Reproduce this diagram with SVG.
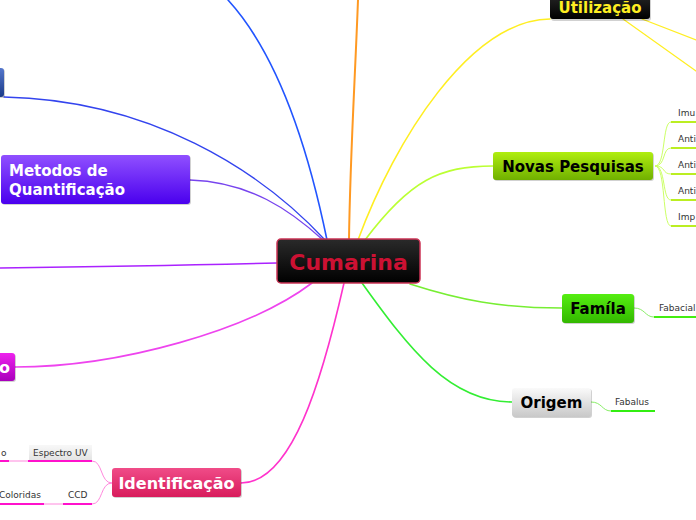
<svg xmlns="http://www.w3.org/2000/svg" width="696" height="520" viewBox="0 0 696 520">
<defs>
<linearGradient id="gBlack" x1="0" y1="0" x2="0" y2="1"><stop offset="0" stop-color="#2a2a2a"/><stop offset="1" stop-color="#000"/></linearGradient>
<linearGradient id="gGreenY" x1="0" y1="0" x2="0" y2="1"><stop offset="0" stop-color="#b0ee10"/><stop offset="1" stop-color="#70b000"/></linearGradient>
<linearGradient id="gGreen" x1="0" y1="0" x2="0" y2="1"><stop offset="0" stop-color="#55ee11"/><stop offset="1" stop-color="#33b800"/></linearGradient>
<linearGradient id="gGray" x1="0" y1="0" x2="0" y2="1"><stop offset="0" stop-color="#fafafa"/><stop offset="1" stop-color="#c8c8c8"/></linearGradient>
<linearGradient id="gPink" x1="0" y1="0" x2="0" y2="1"><stop offset="0" stop-color="#f04c88"/><stop offset="1" stop-color="#d81c5c"/></linearGradient>
<linearGradient id="gPurple" x1="0" y1="0" x2="0" y2="1"><stop offset="0" stop-color="#9050ff"/><stop offset="1" stop-color="#4a00ee"/></linearGradient>
<linearGradient id="gBlue" x1="0" y1="0" x2="0" y2="1"><stop offset="0" stop-color="#5577cc"/><stop offset="1" stop-color="#1a3a88"/></linearGradient>
<linearGradient id="gMag" x1="0" y1="0" x2="0" y2="1"><stop offset="0" stop-color="#ee22ee"/><stop offset="1" stop-color="#a800bb"/></linearGradient>
<linearGradient id="gLab" x1="0" y1="0" x2="0" y2="1"><stop offset="0" stop-color="#f8f8f8"/><stop offset="1" stop-color="#e4e4e4"/></linearGradient>
</defs>
<style>
.t{font-family:"DejaVu Sans",Verdana,sans-serif;font-weight:bold}
.s{font-family:"DejaVu Sans",Verdana,sans-serif;font-size:9px;fill:#333}
.c{fill:none;stroke-linecap:round}
.sh{fill:#000;opacity:0.18}
</style>
<g id="connectors">
<path class="c" d="M228 0 Q292 70 327 240" stroke="#2255ff" stroke-width="1.6"/>
<path class="c" d="M358 0 C355 80 350 160 349 240" stroke="#ff9922" stroke-width="2"/>
<path class="c" d="M358 240 C395 140 470 20 550 19" stroke="#ffee22" stroke-width="1.6"/>
<path class="c" d="M623 19 L696 71" stroke="#ffee22" stroke-width="1.2"/>
<path class="c" d="M642 19 L696 40" stroke="#ffee22" stroke-width="1.2"/>
<path class="c" d="M365 240 C410 180 440 166 493 166" stroke="#bbff33" stroke-width="1.6"/>
<path class="c" d="M410 284 C460 300 500 308 562 308" stroke="#77ee33" stroke-width="1.6"/>
<path class="c" d="M362 283 C410 350 450 402 512 402" stroke="#33ee33" stroke-width="1.6"/>
<path class="c" d="M344 283 C322 380 292 483 241 483" stroke="#ff33cc" stroke-width="1.6"/>
<path class="c" d="M312 283 C250 330 120 367 15 367" stroke="#ee44ee" stroke-width="1.6"/>
<path class="c" d="M277 263 Q150 266 0 268" stroke="#aa22ff" stroke-width="1.6"/>
<path class="c" d="M190 180 C250 182 290 210 323 240" stroke="#7744ee" stroke-width="1.4"/>
<path class="c" d="M4 97 C150 100 260 170 325 240" stroke="#3344ee" stroke-width="1.4"/>
<g stroke="#ccff66" stroke-width="1" fill="none">
<path d="M655 166 C666 166 662 122 671 122"/>
<path d="M655 166 C666 166 662 148 671 148"/>
<path d="M655 166 C666 166 662 174 671 174"/>
<path d="M655 166 C666 166 662 200 671 200"/>
<path d="M655 166 C666 166 662 226 671 226"/>
</g>
<path d="M634 308 C645 308 645 317 654 317" stroke="#88ee66" stroke-width="1" fill="none"/>
<path d="M591 402 C602 402 602 411 611 411" stroke="#88ee66" stroke-width="1" fill="none"/>
<g stroke="#ff88dd" stroke-width="1" fill="none">
<path d="M112 483 C100 483 103 461 92 461"/>
<path d="M112 483 C100 483 103 504 92 504"/>
<path d="M9 461 L28 461"/>
<path d="M44 504 L63 504"/>
</g>
</g>
<g id="cumarina">
<rect x="277" y="239" width="143" height="44" rx="4" fill="url(#gBlack)" stroke="#cc3355" stroke-width="1.5"/>
<text class="t" x="348.5" y="270" font-size="22" fill="#cc1133" text-anchor="middle">Cumarina</text>
</g>
<g id="utilizacao">
<rect class="sh" x="551" y="-6" width="100" height="27" rx="3"/>
<rect x="550" y="-8" width="100" height="27" rx="3" fill="url(#gBlack)"/>
<text class="t" x="600" y="13" font-size="15" fill="#ffee22" text-anchor="middle">Utilização</text>
</g>
<g id="novas">
<rect class="sh" x="494" y="153" width="160" height="28" rx="3"/>
<rect x="493" y="152" width="160" height="28" rx="3" fill="url(#gGreenY)"/>
<text class="t" x="573" y="171.5" font-size="15" fill="#000" text-anchor="middle">Novas Pesquisas</text>
</g>
<g id="novas-children">
<text class="s" x="678" y="116">Imu</text>
<text class="s" x="678" y="142">Anti</text>
<text class="s" x="678" y="168">Anti</text>
<text class="s" x="678" y="194">Anti</text>
<text class="s" x="678" y="220">Imp</text>
<g fill="#bbee22">
<rect x="671" y="121" width="25" height="2"/>
<rect x="671" y="147" width="25" height="2"/>
<rect x="671" y="173" width="25" height="2"/>
<rect x="671" y="199" width="25" height="2"/>
<rect x="671" y="225" width="25" height="2"/>
</g>
</g>
<g id="familia">
<rect class="sh" x="563" y="295" width="72" height="29" rx="3"/>
<rect x="562" y="294" width="72" height="29" rx="3" fill="url(#gGreen)"/>
<text class="t" x="598" y="314" font-size="15" fill="#000" text-anchor="middle">Famíla</text>
<text class="s" x="659" y="311">Fabacial</text>
<rect x="654" y="316" width="42" height="2" fill="#44ee11"/>
</g>
<g id="origem">
<rect class="sh" x="513" y="389" width="79" height="29" rx="3"/>
<rect x="512" y="388" width="79" height="29" rx="3" fill="url(#gGray)"/>
<text class="t" x="551.5" y="408" font-size="15" fill="#000" text-anchor="middle">Origem</text>
<text class="s" x="615" y="405">Fabalus</text>
<rect x="611" y="410" width="44" height="2" fill="#33ee11"/>
</g>
<g id="identificacao">
<rect class="sh" x="113" y="469" width="129" height="29" rx="3"/>
<rect x="112" y="468" width="129" height="29" rx="3" fill="url(#gPink)"/>
<text class="t" x="176.5" y="489" font-size="16" fill="#fff" text-anchor="middle">Identificação</text>
</g>
<g id="espectro">
<rect x="29" y="445" width="63" height="15" fill="url(#gLab)"/>
<text class="s" x="33" y="456">Espectro UV</text>
<rect x="28" y="460" width="64" height="2" fill="#ff11cc"/>
</g>
<g id="o-child">
<text class="s" x="1" y="456">o</text>
<rect x="0" y="460" width="9" height="2" fill="#ff11cc"/>
</g>
<g id="ccd">
<text class="s" x="68" y="498">CCD</text>
<rect x="63" y="503" width="29" height="2" fill="#ff11cc"/>
</g>
<g id="coloridas">
<text class="s" x="-1" y="498">Coloridas</text>
<rect x="0" y="503" width="44" height="2" fill="#ff11cc"/>
</g>
<g id="metodos">
<rect class="sh" x="2" y="156" width="189" height="49" rx="3"/>
<rect x="1" y="155" width="189" height="49" rx="3" fill="url(#gPurple)"/>
<text class="t" x="9" y="176" font-size="15" fill="#fff">Metodos de</text>
<text class="t" x="9" y="195" font-size="15" fill="#fff">Quantificação</text>
</g>
<g id="left-blue">
<rect class="sh" x="-9" y="69" width="14" height="29" rx="3"/>
<rect x="-10" y="68" width="14" height="29" rx="3" fill="url(#gBlue)"/>
</g>
<g id="left-magenta">
<rect class="sh" x="-9" y="354" width="25" height="28" rx="3"/>
<rect x="-10" y="353" width="25" height="28" rx="3" fill="url(#gMag)"/>
<text class="t" x="-1" y="373" font-size="16" fill="#fff">o</text>
</g>
</svg>
